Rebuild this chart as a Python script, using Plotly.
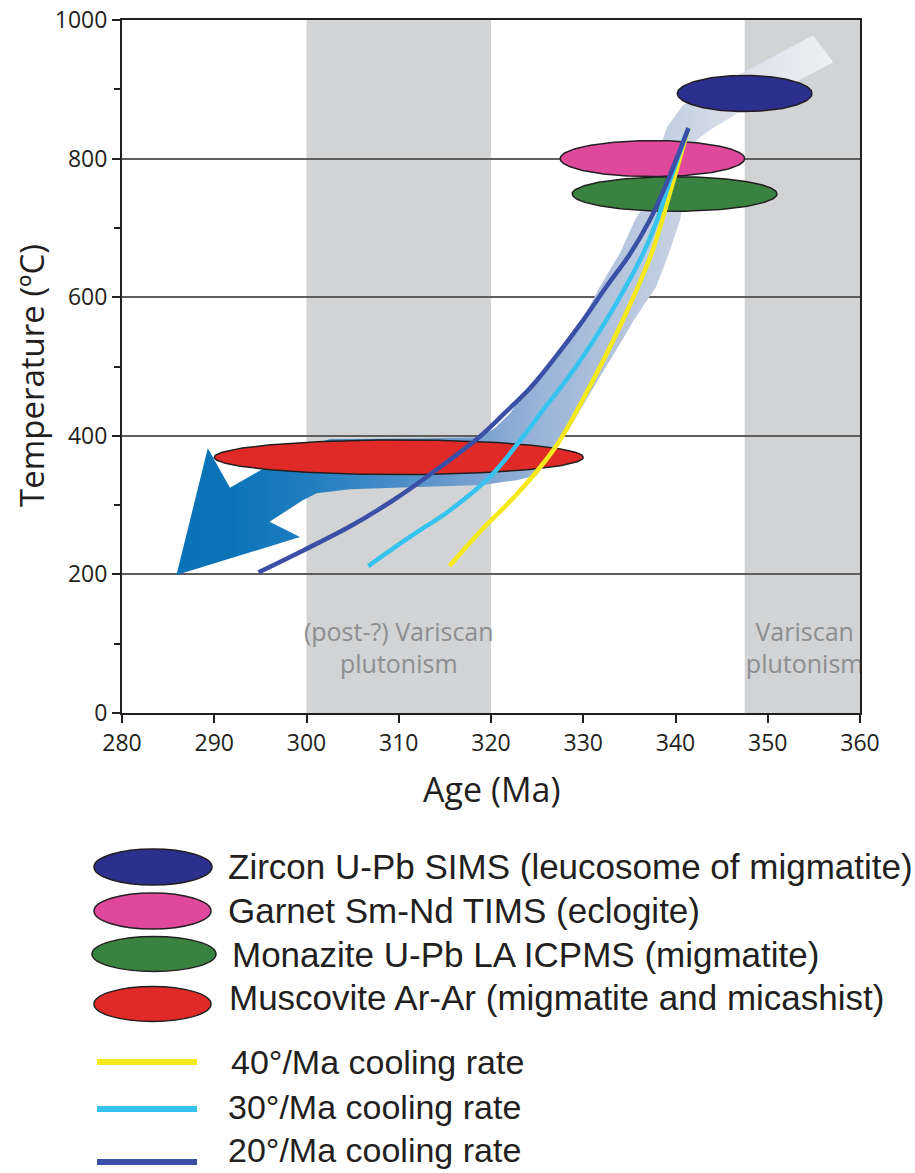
import numpy as np
import plotly.graph_objects as go

# ---------------------------------------------------------------- axes
AGE_RANGE = [280, 360]
TEMP_RANGE = [0, 1000]
age_ticks = [280, 290, 300, 310, 320, 330, 340, 350, 360]
temp_ticks = [0, 200, 400, 600, 800, 1000]

# ---------------------------------------------------------------- plutonism windows (Ma)
pluton_start = [300.0, 347.5]
pluton_end = [320.0, 360.0]
pluton_labels = ["(post-?) Variscan<br>plutonism", "Variscan<br>plutonism"]
pluton_label_age = [310.0, 354.0]
pluton_label_temp = [90, 90]

# ---------------------------------------------------------------- geochronology constraints
geo_names = [
    "Zircon U-Pb SIMS (leucosome of migmatite)",
    "Garnet Sm-Nd TIMS (eclogite)",
    "Monazite U-Pb LA ICPMS (migmatite)",
    "Muscovite Ar-Ar (migmatite and micashist)",
]
geo_colors = ["#2b2f8e", "#e0489c", "#3a823f", "#e02a27"]
geo_age = [347.5, 337.5, 339.9, 310.0]        # centre age (Ma)
geo_age_err = [7.3, 10.0, 11.1, 20.0]          # half-span in age (Ma)
geo_temp = [894, 800, 749, 369]                # centre temperature (°C)
geo_temp_err = [26, 26, 25, 25]                # half-span in temperature (°C)

# ---------------------------------------------------------------- cooling-rate paths
cool_names = ["40°/Ma cooling rate", "30°/Ma cooling rate", "20°/Ma cooling rate"]
cool_colors = ["#f5e91b", "#36c3ef", "#3a4fa6"]

cool40_age = [341.4, 339.6, 337.4, 334.3, 330.7, 327.0, 322.9, 318.9, 315.5]
cool40_temp = [844, 760, 663, 567, 471, 384, 317, 263, 212]

cool30_age = [341.4, 339.2, 338.0, 336.5, 334.6, 332.5, 330.2, 328.2, 325.4, 323.5,
              319.9, 315.6, 311.2, 306.7]
cool30_temp = [844, 760, 711, 663, 615, 567, 519, 481, 433, 399,
               341, 293, 254, 212]

cool20_age = [341.4, 338.9, 337.2, 335.1, 332.5, 330.0, 327.3, 324.4, 321.5, 318.8,
              314.1, 309.4, 304.7, 299.7, 294.8]
cool20_temp = [844, 760, 711, 663, 615, 567, 519, 471, 433, 399,
               351, 307, 269, 235, 203]

# ---------------------------------------------------------------- exhumation / cooling band with arrow head
band_age = [285.9, 289.3, 291.7, 296.0, 300.4, 302.5, 312.0, 318.8, 320.4, 322.1,
            324.0, 327.2, 329.9, 331.8, 334.0, 335.6, 337.8, 338.3, 338.6, 339.1,
            340.8, 343.5, 347.3, 354.9, 357.1, 347.3, 343.7, 342.3, 341.3, 340.5,
            339.3, 337.9, 335.5, 333.4, 331.6, 328.4, 325.9, 325.0, 322.8, 319.1,
            312.0, 304.7, 301.1, 299.6, 296.0, 299.3, 285.9]
band_temp = [199, 382, 325, 358, 387, 395, 396, 398, 411, 433,
             470, 519, 567, 615, 664, 711, 759, 798, 827, 846,
             877, 902, 924, 978, 939, 870, 841, 827, 770, 711,
             664, 615, 567, 520, 481, 408, 362, 343, 336, 329,
             326, 323, 317, 307, 276, 254, 199]
band_scale = [
    [0.00, "#0a72b6"], [0.09, "#0b74b8"], [0.20, "#1f7ebf"], [0.34, "#4a8dc8"],
    [0.465, "#7ba2d0"], [0.55, "#99b3d7"], [0.66, "#b2c3dc"], [0.76, "#c6d2e3"],
    [0.88, "#dfe3ea"], [1.00, "#eff0f2"],
]

# ---------------------------------------------------------------- page geometry
W, H = 915, 1173
ML, MR, MT, MB = 122, 55, 20, 460
PW, PH = W - ML - MR, H - MT - MB

def fx(px):
    """pixel column -> paper x"""
    return (px - ML) / PW

def fy(py):
    """pixel row -> paper y"""
    return (H - MB - py) / PH

INK = "#231f20"
GREY_BAND = "#d1d3d4"
LABEL_GREY = "#8d8e90"

fig = go.Figure()

# cooling band
fig.add_trace(go.Scatter(
    x=band_age, y=band_temp, mode="none", fill="toself",
    fillgradient=dict(type="horizontal", colorscale=band_scale, start=285.5, stop=357.5),
    hoverinfo="skip", showlegend=False,
))

# constraint ellipses
theta = np.linspace(0, 2 * np.pi, 181)
for name, col, a, da, t, dt in zip(geo_names, geo_colors, geo_age, geo_age_err, geo_temp, geo_temp_err):
    fig.add_trace(go.Scatter(
        x=a + da * np.cos(theta), y=t + dt * np.sin(theta),
        mode="lines", fill="toself", fillcolor=col,
        line=dict(color=INK, width=1.5), name=name, showlegend=False, hoverinfo="skip",
    ))

# cooling paths
for name, col, xs, ys in zip(cool_names, cool_colors,
                             [cool40_age, cool30_age, cool20_age],
                             [cool40_temp, cool30_temp, cool20_temp]):
    fig.add_trace(go.Scatter(
        x=xs, y=ys, mode="lines", line=dict(color=col, width=4.5, shape="spline", smoothing=1.0),
        name=name, showlegend=False, hoverinfo="skip",
    ))

# plutonism labels (clipped by the plot frame)
fig.add_trace(go.Scatter(
    x=pluton_label_age, y=pluton_label_temp, mode="text", text=pluton_labels,
    textposition="middle center", cliponaxis=True,
    textfont=dict(family="Open Sans", size=25, color=LABEL_GREY),
    showlegend=False, hoverinfo="skip",
))

shapes = []
for s, e in zip(pluton_start, pluton_end):
    shapes.append(dict(type="rect", xref="x", yref="paper", x0=s, x1=e, y0=0, y1=1,
                       fillcolor=GREY_BAND, line=dict(width=0), layer="below"))

annotations = [
    dict(text="Temperature (ºC)", xref="paper", yref="paper", x=fx(31), y=fy(376),
         textangle=-90, showarrow=False, xanchor="center", yanchor="middle",
         font=dict(family="Open Sans", size=33, color=INK)),
    dict(text="Age (Ma)", xref="paper", yref="paper", x=fx(491), y=fy(789),
         showarrow=False, xanchor="center", yanchor="middle",
         font=dict(family="Open Sans", size=34, color=INK)),
]

# legend: ellipse swatches
leg_ell_cx = [153, 152.5, 154, 152.5]
leg_ell_cy = [867, 911, 954, 1004]
leg_ell_rx = [59, 58.5, 62, 58.5]
leg_ell_ry = [18, 18, 17.5, 17.5]
leg_ell_text_x = [226, 226, 230, 227]
leg_ell_text_y = [866, 911, 954, 997]
for col, cx, cy, rx, ry in zip(geo_colors, leg_ell_cx, leg_ell_cy, leg_ell_rx, leg_ell_ry):
    shapes.append(dict(type="circle", xref="paper", yref="paper",
                       x0=fx(cx - rx), x1=fx(cx + rx), y0=fy(cy + ry), y1=fy(cy - ry),
                       fillcolor=col, line=dict(color=INK, width=1.5), layer="above"))
for name, tx, ty in zip(geo_names, leg_ell_text_x, leg_ell_text_y):
    annotations.append(dict(text=name, xref="paper", yref="paper", x=fx(tx), y=fy(ty),
                            showarrow=False, xanchor="left", yanchor="middle",
                            font=dict(family="Liberation Sans", size=35, color=INK)))

# legend: line swatches
leg_line_y = [1062, 1109, 1162]
leg_line_text_x = [229, 226, 226]
leg_line_text_y = [1062, 1107, 1150]
for col, ly in zip(cool_colors, leg_line_y):
    shapes.append(dict(type="line", xref="paper", yref="paper",
                       x0=fx(97), x1=fx(197), y0=fy(ly), y1=fy(ly),
                       line=dict(color=col, width=6), layer="above"))
for name, tx, ty in zip(cool_names, leg_line_text_x, leg_line_text_y):
    annotations.append(dict(text=name, xref="paper", yref="paper", x=fx(tx), y=fy(ty),
                            showarrow=False, xanchor="left", yanchor="middle",
                            font=dict(family="Liberation Sans", size=34, color=INK)))

fig.update_layout(
    width=W, height=H,
    margin=dict(l=ML, r=MR, t=MT, b=MB, autoexpand=False),
    paper_bgcolor="white", plot_bgcolor="white",
    shapes=shapes, annotations=annotations,
    showlegend=False,
)
fig.update_xaxes(
    range=AGE_RANGE, tickvals=age_ticks, ticks="outside", ticklen=8, tickwidth=1.5,
    tickcolor=INK, showline=True, linecolor=INK, linewidth=2, mirror=True,
    showgrid=False, zeroline=False, automargin=False,
    tickfont=dict(family="Open Sans", size=23, color=INK),
)
fig.update_yaxes(
    range=TEMP_RANGE, tickvals=temp_ticks, ticks="outside", ticklen=8, tickwidth=1.5,
    tickcolor=INK, showline=True, linecolor=INK, linewidth=2, mirror=True,
    showgrid=True, gridcolor="#5e5e5e", gridwidth=1.5, zeroline=False, automargin=False,
    minor=dict(dtick=100, ticks="outside", ticklen=6, tickwidth=1.5, tickcolor=INK, showgrid=False),
    tickfont=dict(family="Open Sans", size=23, color=INK),
)

fig.write_html("out.html")
